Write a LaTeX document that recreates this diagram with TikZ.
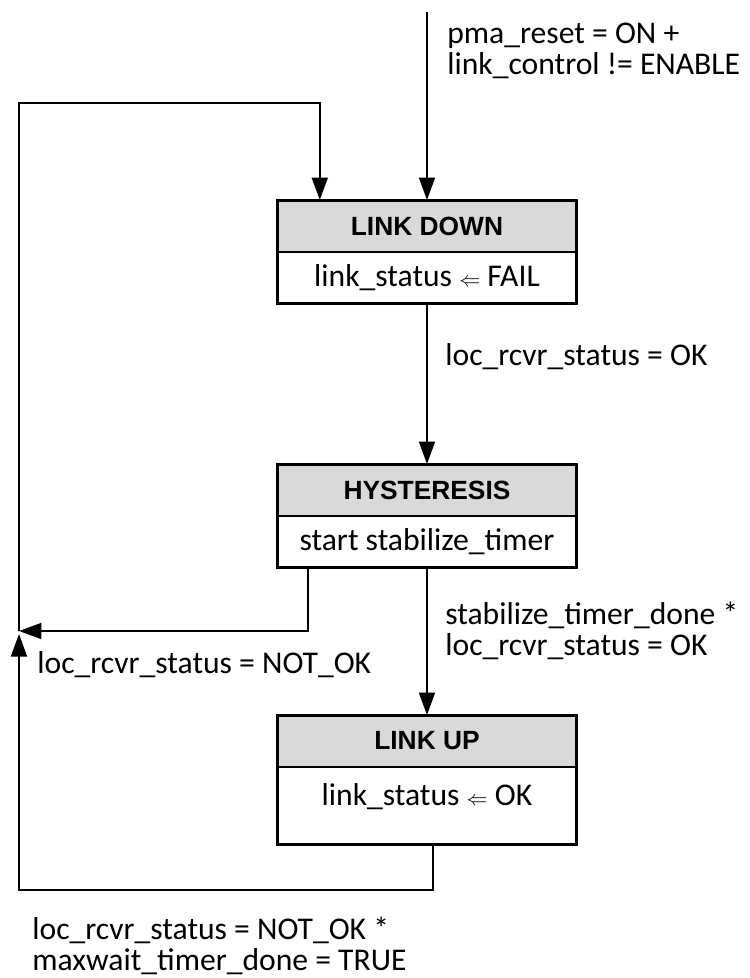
\documentclass[tikz,border=0pt]{standalone}
\usepackage{fontspec}
\setmainfont{Carlito}
\newfontfamily\headfont{Liberation Sans}
\usetikzlibrary{positioning,arrows.meta,calc}
\definecolor{hdgray}{RGB}{217,217,217}
\newcommand{\asgn}{{\fontsize{12}{12}\selectfont$\Leftarrow$}}

\tikzset{
  every node/.style={font=\fontsize{18}{17.6}\selectfont},
  statehd/.style={draw, line width=1.7pt, fill=hdgray, minimum width=5.97cm, minimum height=1.04cm,
    outer sep=0pt, inner sep=0pt, font=\headfont\bfseries\fontsize{15}{16}\selectfont},
  statebd/.style={draw, line width=1.7pt, fill=white, minimum width=5.97cm, minimum height=1.04cm,
    outer sep=0pt, inner sep=0pt},
  cond/.style={inner sep=0pt, align=left},
  trans/.style={line width=1.1pt, -{Triangle[length=0.45cm,width=0.32cm]}}
}

\begin{document}
\begin{tikzpicture}[x=0.02cm,y=-0.02cm]
	\useasboundingbox (0,0) rectangle (750,978);
	
	% States
	\node[statehd] (downhd) at (427,226) {LINK DOWN};
	\node[statebd, below=0pt of downhd] (downbd) {link\_status \asgn{} FAIL};
	\node[statehd] (hysthd) at (427,490) {HYSTERESIS};
	\node[statebd, below=0pt of hysthd] (hystbd) {start stabilize\_timer};
	\node[statehd] (uphd) at (427,741) {LINK UP};
	\node[statebd, below=0pt of uphd, minimum height=1.56cm, text depth=0.47cm] (upbd) {link\_status \asgn{} OK};
	
	% Define coordinates
	\coordinate (entry) at (427,12);
	\coordinate (topl) at (19,103);
	\coordinate (jn) at (19,631);
	\coordinate (jnb) at (19,634);
	\coordinate (botl) at (19,890);
	
	% Transitions
	\draw[trans] (entry) -- (downhd.north);
	\draw[trans] (jn) -- (topl) -| ($(downhd.north west)+(42,0)$);
	\draw[trans] (downbd.south) -- (hysthd.north);
	\draw[trans] (hystbd.south) -- (uphd.north);
	\draw[trans] ($(hystbd.south west)+(30,0)$) |- (jn);
	\draw[trans] ($(upbd.south)+(6,0)$) |- (botl) -- (jnb);
	
	% Add labels
	\node[cond, anchor=base west] (resetlbl) at (447,74) {pma\_reset = ON +\\link\_control != ENABLE};
	\node[cond, anchor=base west] (oklbl) at (445,365) {loc\_rcvr\_status = OK};
	\node[cond, anchor=base west] (stablbl) at (445,655) {stabilize\_timer\_done *\\loc\_rcvr\_status = OK};
	\node[cond, anchor=base west] (notoklbl) at (37,673) {loc\_rcvr\_status = NOT\_OK};
	\node[cond, anchor=base west] (maxlbl) at (32,970) {loc\_rcvr\_status = NOT\_OK *\\maxwait\_timer\_done = TRUE};
\end{tikzpicture}
\end{document}
